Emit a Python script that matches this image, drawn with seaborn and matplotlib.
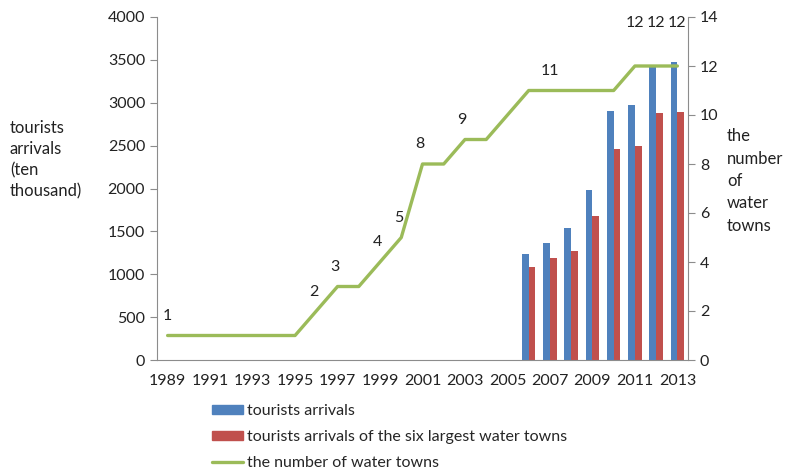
import numpy as np
import pandas as pd
import matplotlib
matplotlib.use("Agg")
import matplotlib.pyplot as plt
import seaborn as sns
from matplotlib.patches import Patch
from matplotlib.lines import Line2D

# ---- data ----
years = list(range(1989, 2014))
town_counts = [1, 1, 1, 1, 1, 1, 1, 2, 3, 3, 4, 5, 8, 8, 9, 9, 10, 11, 11, 11, 11, 11, 12, 12, 12]
bar_years = [2006, 2007, 2008, 2009, 2010, 2011, 2012, 2013]
tourist_arrivals = [1240, 1365, 1540, 1985, 2905, 2970, 3440, 3480]
six_largest_arrivals = [1090, 1190, 1275, 1680, 2455, 2490, 2875, 2890]
label_years = [1989, 1996, 1997, 1999, 2000, 2001, 2003, 2007, 2011, 2012, 2013]
series_names = ["tourists arrivals",
                "tourists arrivals of the six largest water towns",
                "the number of water towns"]
left_label = "tourists\narrivals\n(ten\nthousand)"
right_label = "the\nnumber\nof\nwater\ntowns"

BLUE = "#4F81BD"
RED = "#C0504D"
GREEN = "#9BBB59"
AXC = "#8c8c8c"

sns.set_style("white")
plt.rcParams["font.family"] = ["Lato", "DejaVu Sans"]
FS = 11.5

bars = pd.DataFrame({
    "year": [str(y) for y in bar_years] * 2,
    "value": tourist_arrivals + six_largest_arrivals,
    "series": [series_names[0]] * len(bar_years) + [series_names[1]] * len(bar_years),
})

fig = plt.figure(figsize=(7.91, 4.76), dpi=100)
ax = fig.add_axes([157 / 791, 1 - 360 / 476, (688 - 157) / 791, (360 - 17) / 476])

sns.barplot(data=bars, x="year", y="value", hue="series",
            order=[str(y) for y in years], hue_order=series_names[:2],
            palette=[BLUE, RED], width=0.64, saturation=1, linewidth=0,
            errorbar=None, legend=False, ax=ax)

ax.set_xlim(-0.5, len(years) - 0.5)
ax.set_ylim(0, 4000)
ax.set_yticks(np.arange(0, 4001, 500))
ax.set_xticks(np.arange(0, len(years), 2))
ax.set_xticklabels([str(y) for y in years[::2]], fontsize=FS)
ax.set_xticks(np.arange(-0.5, len(years), 1), minor=True)
ax.tick_params(axis="x", which="major", length=0, pad=10, colors="#222222")
ax.tick_params(axis="x", which="minor", length=5, color=AXC, direction="out")
ax.tick_params(axis="y", length=5, color=AXC, direction="out", labelsize=FS,
               labelcolor="#222222", left=True)
ax.set_xlabel("")
ax.set_ylabel("")
for s in ["top", "right"]:
    ax.spines[s].set_visible(False)
for s in ["left", "bottom"]:
    ax.spines[s].set_color(AXC)

ax2 = ax.twinx()
sns.lineplot(x=np.arange(len(years)), y=town_counts, color=GREEN, linewidth=2.4,
             ax=ax2, legend=False)
ax2.set_ylim(0, 14)
ax2.set_yticks(np.arange(0, 15, 2))
ax2.tick_params(axis="y", length=5, color=AXC, direction="out", labelsize=FS,
                labelcolor="#222222", right=True)
for s in ["top", "left", "bottom"]:
    ax2.spines[s].set_visible(False)
ax2.spines["right"].set_color(AXC)
ax2.set_ylabel("")
ax2.set_xlim(-0.5, len(years) - 0.5)

for yr in label_years:
    i = years.index(yr)
    v = town_counts[i]
    dy = 26 if v == 12 else 9
    dx = -2 if yr in (1996, 1997, 1999, 2000, 2001, 2003) else 0
    ax2.annotate(str(v), (i, v), xytext=(dx, dy), textcoords="offset points",
                 ha="center", va="bottom", fontsize=FS, color="#222222")

fig.text(10 / 791, 1 - 160 / 476, left_label, ha="left", va="center",
         fontsize=FS + 0.5, linespacing=1.38, color="#222222")
fig.text(727 / 791, 1 - 181 / 476, right_label, ha="left", va="center",
         fontsize=FS + 0.5, linespacing=1.5, color="#222222")

handles = [Patch(color=BLUE), Patch(color=RED), Line2D([], [], color=GREEN, linewidth=2.4)]
fig.legend(handles, series_names, loc="upper left",
           bbox_to_anchor=(212 / 791, 1 - 404 / 476), frameon=False,
           fontsize=FS, handlelength=1.95, handleheight=0.5, handletextpad=0.25,
           labelspacing=0.75, borderaxespad=0, borderpad=0)

fig.savefig("out.png", dpi=100)
